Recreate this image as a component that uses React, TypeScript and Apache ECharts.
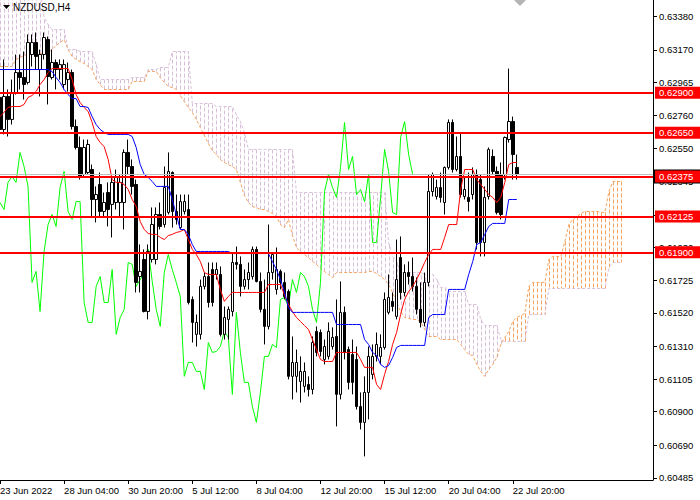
import { useEffect, useRef } from "react";
import * as echarts from "echarts";

// NZDUSD H4 with Ichimoku
const tickLabels = [
  "23 Jun 2022", "28 Jun 04:00", "30 Jun 20:00", "5 Jul 12:00", "8 Jul 04:00",
  "12 Jul 20:00", "15 Jul 12:00", "20 Jul 04:00", "22 Jul 20:00"
];
const priceTicks = [
  0.6338, 0.6317, 0.62965, 0.6276, 0.6255, 0.62345, 0.62135, 0.6193,
  0.61725, 0.6152, 0.6131, 0.61105, 0.609, 0.6069, 0.60485
];
// 0.62135 sits fully under the 0.62125 box in the screenshot
const priceLabels = priceTicks.filter((v) => v !== 0.62135);
const levels = [0.629, 0.6265, 0.62375, 0.62125, 0.619];
const lastLevel = 0.62375;

const opens = [
  0.62871, 0.6267, 0.62877, 0.62733, 0.62902, 0.63027, 0.62996, 0.62965, 0.6314, 0.63215,
  0.63046, 0.6314, 0.63234, 0.62996, 0.6309, 0.63046, 0.62952, 0.62983, 0.63027, 0.62689,
  0.62557, 0.62388, 0.624, 0.62419, 0.62231, 0.62325, 0.62156, 0.62275, 0.622, 0.62212,
  0.62212, 0.62212, 0.62526, 0.62438, 0.62325, 0.61748, 0.61855, 0.61529, 0.61855, 0.61855,
  0.62137, 0.62074, 0.6215, 0.624, 0.62156, 0.62055, 0.62156, 0.62168, 0.61604, 0.61385,
  0.61385, 0.61686, 0.61748, 0.61792, 0.61761, 0.61761, 0.61385, 0.61479, 0.61529, 0.61836,
  0.61824, 0.61686, 0.61729, 0.61748, 0.61918, 0.61717, 0.61542, 0.61435, 0.61773, 0.61667,
  0.6178, 0.61711, 0.61654, 0.61122, 0.61122, 0.6109, 0.61059, 0.61071, 0.6104, 0.61404,
  0.61397, 0.61228, 0.61247, 0.61309, 0.61372, 0.61009, 0.61523, 0.6129, 0.61259, 0.61228,
  0.60933, 0.60833, 0.61021, 0.61134, 0.61247, 0.61247, 0.61303, 0.61523, 0.61592, 0.61498,
  0.61867, 0.61648, 0.61773, 0.61748, 0.61686, 0.61542, 0.6146, 0.61711, 0.62281, 0.6225,
  0.62306, 0.62212, 0.62432, 0.62714, 0.62419, 0.62501, 0.6225, 0.62244, 0.62262, 0.62388,
  0.62356, 0.61961, 0.6225, 0.62501, 0.62407, 0.62388, 0.62388, 0.62607, 0.6272, 0.62432
];
const closes = [
  0.6267, 0.62877, 0.62733, 0.62902, 0.63027, 0.62996, 0.62952, 0.63215, 0.63215, 0.63128,
  0.6314, 0.63247, 0.63002, 0.6309, 0.63046, 0.63077, 0.63077, 0.63027, 0.62689, 0.62557,
  0.62375, 0.62557, 0.62576, 0.62231, 0.62262, 0.62156, 0.62212, 0.62168, 0.62338, 0.62375,
  0.62338, 0.62526, 0.62438, 0.62313, 0.61711, 0.6178, 0.61529, 0.61905, 0.62074, 0.62137,
  0.62062, 0.62306, 0.62407, 0.62156, 0.62106, 0.62218, 0.62218, 0.61585, 0.6146, 0.6146,
  0.61686, 0.61748, 0.61585, 0.61585, 0.61792, 0.61385, 0.61491, 0.61542, 0.61836, 0.61824,
  0.61686, 0.61729, 0.61773, 0.61918, 0.61717, 0.61542, 0.61435, 0.61773, 0.61886, 0.61792,
  0.61711, 0.61623, 0.61122, 0.61209, 0.61209, 0.61153, 0.61153, 0.6104, 0.61334, 0.61272,
  0.61278, 0.61309, 0.61404, 0.61366, 0.61009, 0.61523, 0.61272, 0.61084, 0.61084, 0.60933,
  0.60833, 0.61021, 0.61247, 0.61247, 0.61322, 0.61303, 0.61604, 0.61617, 0.6156, 0.61729,
  0.61648, 0.61773, 0.61748, 0.61686, 0.61542, 0.6146, 0.61711, 0.62281, 0.62388, 0.62306,
  0.62244, 0.62432, 0.62714, 0.62419, 0.62501, 0.62262, 0.62294, 0.62218, 0.62388, 0.61961,
  0.61961, 0.62244, 0.62545, 0.62407, 0.6215, 0.62137, 0.6262, 0.6272, 0.62513, 0.62388
];
const lows = [
  0.62526, 0.62639, 0.62626, 0.62701, 0.62889, 0.62921, 0.62858, 0.62952, 0.63065, 0.63046,
  0.62877, 0.63109, 0.62827, 0.62983, 0.62921, 0.62983, 0.62921, 0.62908, 0.6267, 0.62545,
  0.62356, 0.62375, 0.62388, 0.62124, 0.62087, 0.62124, 0.62124, 0.62062, 0.61993, 0.62168,
  0.62124, 0.62043, 0.62388, 0.62262, 0.61648, 0.61648, 0.61523, 0.61479, 0.61836, 0.61824,
  0.62043, 0.62055, 0.62137, 0.62055, 0.62074, 0.62043, 0.62137, 0.61573, 0.61334, 0.61309,
  0.61353, 0.61667, 0.61554, 0.6156, 0.61729, 0.61372, 0.61353, 0.61353, 0.61498, 0.61792,
  0.61623, 0.61667, 0.61667, 0.61729, 0.61711, 0.61523, 0.61322, 0.61416, 0.61729, 0.61635,
  0.61667, 0.61604, 0.61103, 0.60977, 0.61021, 0.60958, 0.61021, 0.60996, 0.61009, 0.61247,
  0.61247, 0.61197, 0.61228, 0.6129, 0.60808, 0.60977, 0.61228, 0.6104, 0.61009, 0.60914,
  0.60789, 0.6062, 0.60852, 0.61103, 0.61215, 0.61197, 0.6129, 0.6151, 0.61529, 0.61479,
  0.61604, 0.61623, 0.61698, 0.61654, 0.6151, 0.61429, 0.61435, 0.61686, 0.6225, 0.62231,
  0.62212, 0.62137, 0.62419, 0.624, 0.62407, 0.62244, 0.62231, 0.62156, 0.62231, 0.61918,
  0.61874, 0.61874, 0.62231, 0.62388, 0.62137, 0.62106, 0.62356, 0.62588, 0.62356, 0.62356
];
const highs = [
  0.62889, 0.63109, 0.62921, 0.62983, 0.6314, 0.6314, 0.63159, 0.63266, 0.63266, 0.63278,
  0.63171, 0.63278, 0.63253, 0.63171, 0.63109, 0.63109, 0.63109, 0.6309, 0.63046, 0.62733,
  0.62626, 0.62607, 0.62607, 0.6245, 0.62313, 0.624, 0.62275, 0.62338, 0.62375, 0.62419,
  0.62388, 0.62545, 0.62607, 0.62482, 0.62356, 0.61949, 0.61918, 0.61949, 0.62181, 0.62181,
  0.62212, 0.62438, 0.62526, 0.62407, 0.62262, 0.62262, 0.62262, 0.62262, 0.61623, 0.6151,
  0.61729, 0.61773, 0.61836, 0.61836, 0.61836, 0.61811, 0.6156, 0.6156, 0.61899, 0.61936,
  0.61874, 0.61792, 0.61836, 0.61936, 0.61936, 0.61773, 0.61729, 0.62074, 0.61899, 0.6193,
  0.61792, 0.61773, 0.61667, 0.61372, 0.6129, 0.61247, 0.61209, 0.61122, 0.61372, 0.61435,
  0.61416, 0.61353, 0.6146, 0.61429, 0.61604, 0.61717, 0.6156, 0.61309, 0.61353, 0.61309,
  0.61021, 0.61122, 0.61309, 0.61322, 0.61397, 0.61385, 0.61648, 0.61761, 0.61648, 0.6198,
  0.61999, 0.61824, 0.61842, 0.61867, 0.61742, 0.61711, 0.61773, 0.62388, 0.624, 0.62356,
  0.624, 0.62438, 0.62733, 0.62733, 0.62626, 0.62651, 0.62375, 0.624, 0.62432, 0.62419,
  0.62388, 0.62313, 0.62557, 0.62545, 0.62438, 0.62463, 0.62626, 0.63052, 0.62751, 0.62513
];

const tenkan = [
  0.62751, 0.62777, 0.62808, 0.62814, 0.62814, 0.62814, 0.62827, 0.62871, 0.62883, 0.62908,
  0.62952, 0.62983, 0.63027, 0.63052, 0.63052, 0.63052, 0.63052, 0.63052, 0.62983, 0.62889,
  0.62839, 0.62808, 0.62783, 0.62714, 0.62626, 0.62588, 0.62563, 0.62482, 0.62356, 0.62338,
  0.62338, 0.62325, 0.62294, 0.62231, 0.62187, 0.62093, 0.62043, 0.62018, 0.62012, 0.62012,
  0.61993, 0.6198, 0.62005, 0.62012, 0.62024, 0.6203, 0.62043, 0.6198, 0.61918, 0.61886,
  0.61842, 0.61773, 0.61761, 0.61761, 0.61761, 0.61667, 0.61592, 0.61623, 0.61648, 0.61648,
  0.61648, 0.61648, 0.61648, 0.61648, 0.61648, 0.61648, 0.61648, 0.61698, 0.61698, 0.61698,
  0.61698, 0.61635, 0.61573, 0.61529, 0.61491, 0.61466, 0.61441, 0.61416, 0.61353, 0.6129,
  0.61228, 0.61215, 0.61215, 0.61215, 0.61272, 0.61272, 0.61272, 0.61272, 0.61272, 0.61272,
  0.61228, 0.61178, 0.61178, 0.61178, 0.61071, 0.6104, 0.61134, 0.61215, 0.61322, 0.61397,
  0.6151, 0.61604, 0.61654, 0.61686, 0.61729, 0.6178, 0.61836, 0.61886, 0.61918, 0.61918,
  0.61918, 0.61993, 0.62074, 0.62074, 0.62074, 0.62294, 0.62419, 0.62419, 0.62419, 0.62356,
  0.62325, 0.62294, 0.62262, 0.62244, 0.62212, 0.62244, 0.62338, 0.6245, 0.62463, 0.62463
];
const kijun = [
  0.63046, 0.63046, 0.63046, 0.63046, 0.63046, 0.63046, 0.63046, 0.63046, 0.63046, 0.63046,
  0.63046, 0.63046, 0.63046, 0.63034, 0.62996, 0.62965, 0.62921, 0.62889, 0.62864, 0.62864,
  0.62814, 0.62814, 0.62808, 0.62751, 0.62701, 0.6267, 0.62651, 0.62639, 0.62639, 0.62639,
  0.62639, 0.62639, 0.62639, 0.62626, 0.62557, 0.6245, 0.62388, 0.62369, 0.62344, 0.62313,
  0.62313, 0.62313, 0.62313, 0.62231, 0.62137, 0.62043, 0.62043, 0.62012, 0.61949, 0.61905,
  0.61905, 0.61905, 0.61905, 0.61905, 0.61905, 0.61905, 0.61905, 0.61905, 0.61892, 0.61892,
  0.61892, 0.61892, 0.61892, 0.61892, 0.61892, 0.61892, 0.61892, 0.61892, 0.61842, 0.61792,
  0.61729, 0.61654, 0.61554, 0.61523, 0.61523, 0.61523, 0.61523, 0.61523, 0.61523, 0.61523,
  0.61523, 0.61523, 0.61523, 0.61523, 0.61447, 0.61447, 0.61447, 0.61447, 0.61447, 0.61447,
  0.61447, 0.61353, 0.61322, 0.61272, 0.61253, 0.61197, 0.61178, 0.6119, 0.6124, 0.61303,
  0.61316, 0.61316, 0.61316, 0.61316, 0.61316, 0.61316, 0.61316, 0.61491, 0.6151, 0.6151,
  0.6151, 0.6151, 0.61667, 0.61667, 0.61667, 0.61667, 0.61667, 0.61761, 0.61842, 0.61949,
  0.61961, 0.62012, 0.62062, 0.62081, 0.62081, 0.62081, 0.62081, 0.62231, 0.62231, 0.62231
];
// senkou spans, already shifted 26 bars ahead (156 values)
const spanA = [
  0.63065, 0.63065, 0.63065, 0.63065, 0.63109, 0.63121, 0.63134, 0.6314, 0.6314, 0.6314,
  0.63146, 0.63146, 0.63153, 0.63171, 0.63197, 0.63215, 0.63234, 0.63171, 0.63128, 0.63109,
  0.63096, 0.63084, 0.63065, 0.63046, 0.62983, 0.62952, 0.62921, 0.62921, 0.62921, 0.62921,
  0.62921, 0.62921, 0.62921, 0.62971, 0.62971, 0.62971, 0.62971, 0.63034, 0.63034, 0.63034,
  0.62996, 0.62965, 0.6294, 0.62933, 0.62921, 0.62883, 0.62845, 0.62808, 0.62777, 0.62733,
  0.62682, 0.62632, 0.62582, 0.62538, 0.62513, 0.62482, 0.62463, 0.6245, 0.62438, 0.62419,
  0.62338, 0.62256, 0.62212, 0.62187, 0.62181, 0.62168, 0.62168, 0.62156, 0.62143, 0.62124,
  0.62074, 0.62055, 0.62106, 0.62005, 0.6193, 0.61905, 0.61886, 0.61867, 0.61842, 0.61824,
  0.61798, 0.6178, 0.61761, 0.61742, 0.61773, 0.61773, 0.61773, 0.61773, 0.61773, 0.61773,
  0.61773, 0.61773, 0.6178, 0.6178, 0.61767, 0.61748, 0.61729, 0.61698, 0.61648, 0.61585,
  0.61529, 0.61491, 0.61485, 0.61479, 0.61479, 0.61466, 0.61416, 0.61372, 0.61372, 0.61372,
  0.61353, 0.61353, 0.61353, 0.61353, 0.61353, 0.61322, 0.6129, 0.61259, 0.61253, 0.61197,
  0.61153, 0.61122, 0.61165, 0.61197, 0.6124, 0.61322, 0.61366, 0.61404, 0.61466, 0.61491,
  0.61504, 0.61516, 0.61686, 0.61711, 0.61711, 0.61711, 0.61711, 0.61855, 0.61874, 0.61874,
  0.61874, 0.61968, 0.62074, 0.62106, 0.62124, 0.62143, 0.62156, 0.62156, 0.62156, 0.62156,
  0.6215, 0.6215, 0.62281, 0.62344, 0.62344, 0.62344
];
const spanB = [
  0.63548, 0.63548, 0.63548, 0.63548, 0.63548, 0.63548, 0.63548, 0.63548, 0.63548, 0.63548,
  0.63548, 0.63372, 0.63328, 0.63297, 0.63297, 0.63297, 0.63297, 0.63171, 0.63171, 0.63171,
  0.63159, 0.63159, 0.63159, 0.63159, 0.63077, 0.62983, 0.62983, 0.62983, 0.62983, 0.62983,
  0.62983, 0.62983, 0.62983, 0.62996, 0.62996, 0.62996, 0.62996, 0.63046, 0.63046, 0.63046,
  0.63059, 0.63059, 0.63059, 0.63159, 0.63159, 0.63159, 0.63159, 0.63159, 0.62833, 0.62833,
  0.62833, 0.62833, 0.62833, 0.62833, 0.62814, 0.62814, 0.62814, 0.62814, 0.62814, 0.62764,
  0.6272, 0.62651, 0.62545, 0.62545, 0.62545, 0.62545, 0.62545, 0.62545, 0.62545, 0.62545,
  0.62545, 0.62545, 0.62545, 0.62545, 0.62275, 0.62275, 0.62275, 0.62275, 0.62275, 0.62275,
  0.62275, 0.62275, 0.62275, 0.62275, 0.62275, 0.62275, 0.62275, 0.62275, 0.62275, 0.62275,
  0.62275, 0.62275, 0.62275, 0.62275, 0.62275, 0.62275, 0.62275, 0.61961, 0.61874, 0.61842,
  0.61773, 0.61773, 0.61773, 0.61773, 0.61773, 0.61773, 0.61761, 0.61761, 0.61761, 0.61729,
  0.61679, 0.61679, 0.61654, 0.61654, 0.61654, 0.61654, 0.61654, 0.61573, 0.61573, 0.61573,
  0.61479, 0.61441, 0.61441, 0.61441, 0.61441, 0.61353, 0.61341, 0.61341, 0.61341, 0.61341,
  0.61341, 0.61341, 0.6151, 0.6151, 0.6151, 0.6151, 0.6151, 0.61673, 0.61673, 0.61673,
  0.61673, 0.61673, 0.61673, 0.61673, 0.61673, 0.61673, 0.61673, 0.61673, 0.61673, 0.61673,
  0.61673, 0.61673, 0.61805, 0.61836, 0.61836, 0.61836
];

const CHIKOU_SHIFT = 26;
const BAR_SLOTS = 164;
const LABEL_EVERY = 16;

const FONT = "'Liberation Sans', Arial, sans-serif";
const SANDY = "#F4A460";
const THISTLE = "#D8BFD8";

function App() {
  const chartRef = useRef<HTMLDivElement>(null);

  useEffect(() => {
    const chart = echarts.init(chartRef.current, null, { renderer: "svg" });

    const categories = Array.from({ length: BAR_SLOTS }, (_, i) => String(i));
    const candles = opens.map((o, i) => [o, closes[i], lows[i], highs[i]]);
    const chikou = closes.slice(CHIKOU_SHIFT);
    // hatch colour follows which span is on top
    const cloud = spanA.map((a, i) => ({
      value: [i, a, spanB[i]],
      itemStyle: { color: a > spanB[i] ? SANDY : THISTLE }
    }));
    const lastClose = closes[closes.length - 1];
    const showTick = (index: number) =>
      index % LABEL_EVERY === 0 && index / LABEL_EVERY < tickLabels.length;

    const option: any = {
      animation: false,
      backgroundColor: "#ffffff",
      grid: { left: 0, top: 0, right: 47, bottom: 20, containLabel: false, outerBoundsMode: "none" },
      xAxis: {
        type: "category",
        data: categories,
        boundaryGap: false,
        axisLine: { show: true, lineStyle: { color: "#000", width: 1 } },
        axisTick: { show: true, interval: showTick, length: 4, lineStyle: { color: "#000" } },
        axisLabel: {
          interval: showTick,
          formatter: (_v: string, idx: number) => tickLabels[idx / LABEL_EVERY] ?? "",
          align: "left",
          color: "#000",
          fontSize: 9.5,
          fontFamily: FONT,
          margin: 5
        },
        splitLine: { show: false }
      },
      yAxis: {
        type: "value",
        position: "right",
        min: 0.60472,
        max: 0.63482,
        axisLine: { show: true, lineStyle: { color: "#000", width: 1 } },
        axisTick: { show: true, length: 4, customValues: priceTicks, lineStyle: { color: "#000" } },
        axisLabel: {
          customValues: priceLabels,
          formatter: (v: number) => v.toFixed(5),
          color: "#000",
          fontSize: 9.5,
          fontFamily: FONT,
          margin: 6
        },
        splitLine: { show: false }
      },
      graphic: [
        { type: "polygon", shape: { points: [[3, 5], [10, 5], [6.5, 9]] }, style: { fill: "#000" }, z: 10 },
        {
          type: "text", left: 13, top: 2, z: 10,
          style: { text: "NZDUSD,H4", fill: "#000", fontSize: 10, fontFamily: FONT }
        },
        { type: "polygon", shape: { points: [[514, 0], [526, 0], [520, 6]] }, style: { fill: "#b4b4b4" }, z: 10 }
      ],
      series: [
        {
          type: "custom",
          name: "cloud",
          data: cloud,
          encode: { x: 0, y: [1, 2] },
          clip: true,
          z: 1,
          silent: true,
          renderItem: (_p: any, api: any) => {
            const i = api.value(0);
            const p1 = api.coord([i, api.value(1)]);
            const p2 = api.coord([i, api.value(2)]);
            const x = Math.round(p1[0]) + 0.5;
            return {
              type: "line",
              shape: { x1: x, y1: p1[1], x2: x, y2: p2[1] },
              style: { stroke: api.visual("color"), lineWidth: 1, lineDash: [4, 2] }
            };
          }
        },
        {
          type: "line", name: "Senkou A", data: spanA, symbol: "none", z: 1, silent: true,
          lineStyle: { color: SANDY, width: 1, type: [3, 2] }
        },
        {
          type: "line", name: "Senkou B", data: spanB, symbol: "none", z: 1, silent: true,
          lineStyle: { color: THISTLE, width: 1, type: [3, 2] }
        },
        {
          type: "line", name: "Chikou", data: chikou, symbol: "none", z: 2, silent: true,
          lineStyle: { color: "#00ff00", width: 1 }
        },
        {
          type: "candlestick",
          name: "NZDUSD",
          data: candles,
          barWidth: 3,
          z: 3,
          silent: true,
          itemStyle: {
            color: "#ffffff",
            color0: "#000000",
            borderColor: "#000000",
            borderColor0: "#000000",
            borderWidth: 1
          },
          markLine: {
            silent: true,
            symbol: ["none", "none"],
            precision: 5,
            lineStyle: { color: "#ff0000", width: 2, type: "solid" },
            label: {
              show: true,
              position: "end",
              distance: 2,
              formatter: (p: any) => Number(p.value).toFixed(5),
              backgroundColor: "#ff0000",
              color: "#ffffff",
              fontSize: 9.5,
              fontFamily: FONT,
              lineHeight: 10,
              padding: [1, 8, 1, 4]
            },
            data: [
              { yAxis: lastClose, lineStyle: { color: "#c0c0c0", width: 1 }, label: { show: false } },
              ...levels.map((v) =>
                v === lastLevel
                  ? { yAxis: v, label: { borderColor: "#000", borderWidth: 1 } }
                  : { yAxis: v }
              )
            ]
          }
        },
        {
          type: "line", name: "Tenkan", data: tenkan, symbol: "none", z: 4, silent: true,
          lineStyle: { color: "#ff0000", width: 1 }
        },
        {
          type: "line", name: "Kijun", data: kijun, symbol: "none", z: 4, silent: true,
          lineStyle: { color: "#0000ff", width: 1 }
        }
      ]
    };

    chart.setOption(option);
    return () => {
      chart.dispose();
    };
  }, []);

  return (
    <div
      ref={chartRef}
      style={{ position: "absolute", left: 0, top: 0, width: "700px", height: "500px" }}
    ></div>
  );
}

export default App;
